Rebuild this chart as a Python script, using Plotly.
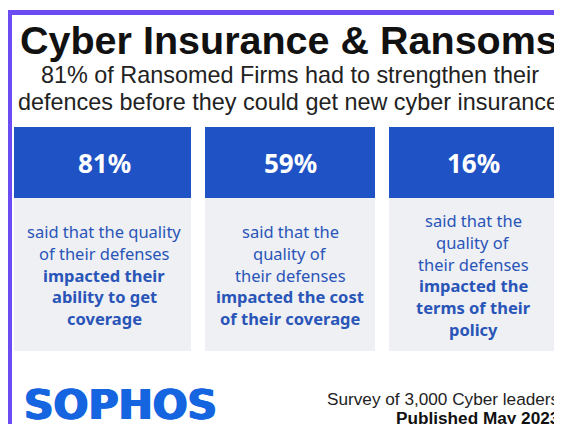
import plotly.graph_objects as go

title = "Cyber Insurance & Ransoms"
subtitle = ["81% of Ransomed Firms had to strengthen their",
            "defences before they could get new cyber insurance"]

percents = ["81%", "59%", "16%"]
plain_lines = [
    ["said that the quality", "of their defenses"],
    ["said that the", "quality of", "their defenses"],
    ["said that the", "quality of", "their defenses"],
]
bold_lines = [
    ["impacted their", "ability to get", "coverage"],
    ["impacted the cost", "of their coverage"],
    ["impacted the", "terms of their", "policy"],
]
brand = "SOPHOS"
source = ["Survey of 3,000 Cyber leaders", "Published May 2023"]

PURPLE = "#6a4cf2"
BLUE = "#1f52c4"
TEXT_BLUE = "#2a55b8"
GREY = "#eef0f4"
LOGO = "#1565e0"

W, H = 562, 424
OFF = 8  # page body margin, so axis units equal window pixels
fig = go.Figure()

shapes = []
# purple frame (runs off the right and bottom edge)
shapes.append(dict(type="rect", x0=9.5, y0=12.5, x1=600, y1=460,
                   line=dict(color=PURPLE, width=5), fillcolor="white"))

box_x = [(14, 191), (205, 375), (389, 575)]
for x0, x1 in box_x:
    shapes.append(dict(type="rect", x0=x0, x1=x1, y0=127, y1=198,
                       fillcolor=BLUE, line=dict(width=0)))
    shapes.append(dict(type="rect", x0=x0, x1=x1, y0=198, y1=351,
                       fillcolor=GREY, line=dict(width=0)))

ann = []
ann.append(dict(x=289, y=40, text="<b>" + title + "</b>",
                font=dict(family="Liberation Sans", size=39.5, color="#111")))
ann.append(dict(x=290, y=75, text=subtitle[0],
                font=dict(family="Liberation Sans", size=23.4, color="#222")))
ann.append(dict(x=288, y=102, text=subtitle[1],
                font=dict(family="Liberation Sans", size=23.4, color="#222")))

centers = [104, 290, 473]
for cx, pct, pl, bl in zip(centers, percents, plain_lines, bold_lines):
    ann.append(dict(x=cx, y=163, text="<b>" + pct + "</b>",
                    font=dict(family="Noto Sans", size=26, color="white")))
    lines = pl + ["<b>" + b + "</b>" for b in bl]
    n = len(lines)
    start = 275 - (n - 1) * 21.7 / 2
    for i, t in enumerate(lines):
        ann.append(dict(x=cx, y=start + i * 21.7, text=t,
                        font=dict(family="Noto Sans", size=16.5, color=TEXT_BLUE)))

ann.append(dict(x=22, y=405, text="<b>" + brand + "</b>", xanchor="left",
                font=dict(family="DejaVu Sans", size=41, color=LOGO,
                          shadow="1px 0 0 %s, -1px 0 0 %s" % (LOGO, LOGO))))
ann.append(dict(x=561, y=399, text=source[0], xanchor="right",
                font=dict(family="Liberation Sans", size=17.2, color="#222")))
ann.append(dict(x=561, y=418, text="<b>" + source[1] + "</b>", xanchor="right",
                font=dict(family="Liberation Sans", size=17.2, color="#111")))

for a in ann:
    a.setdefault("xanchor", "center")
    a.update(xref="x", yref="y", yanchor="middle", showarrow=False)

fig.update_layout(
    width=W, height=H,
    margin=dict(l=0, r=0, t=0, b=0),
    paper_bgcolor="white", plot_bgcolor="white",
    xaxis=dict(range=[OFF, W + OFF], visible=False, fixedrange=True),
    yaxis=dict(range=[H + OFF, OFF], visible=False, fixedrange=True),
    shapes=shapes, annotations=ann, showlegend=False,
)

fig.write_html("out.html")
